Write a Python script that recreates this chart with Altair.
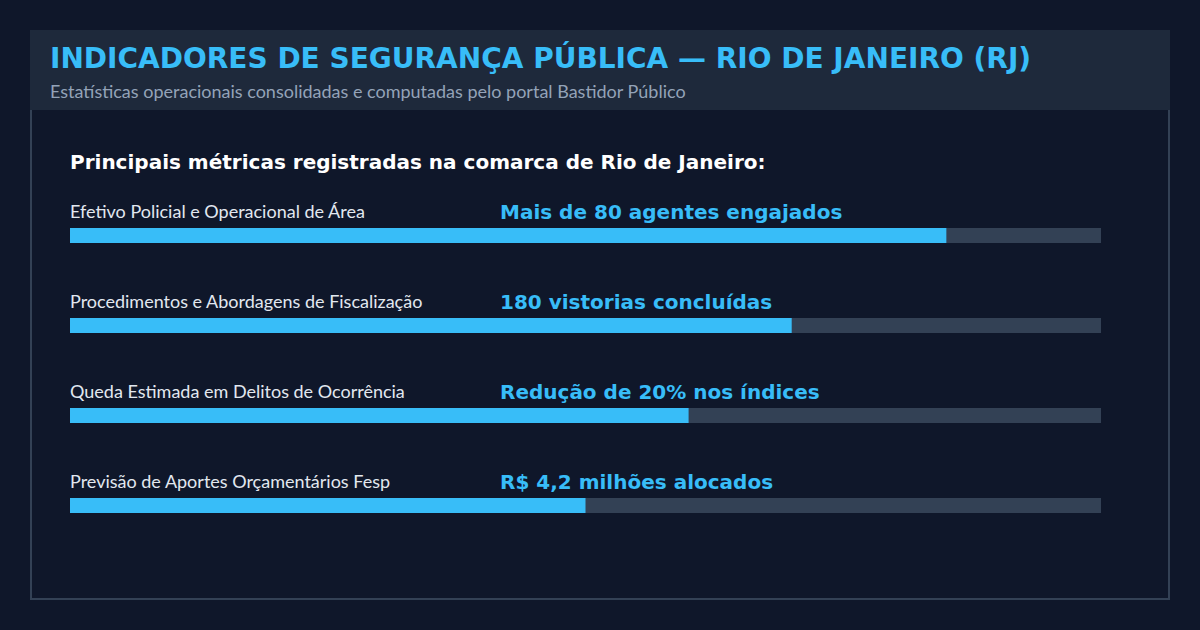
import altair as alt
import pandas as pd

# ---- data ----
categories = [
    "Efetivo Policial e Operacional de Área",
    "Procedimentos e Abordagens de Fiscalização",
    "Queda Estimada em Delitos de Ocorrência",
    "Previsão de Aportes Orçamentários Fesp",
]
values = [85, 70, 60, 50]
value_labels = [
    "Mais de 80 agentes engajados",
    "180 vistorias concluídas",
    "Redução de 20% nos índices",
    "R$ 4,2 milhões alocados",
]
title_text = "INDICADORES DE SEGURANÇA PÚBLICA — RIO DE JANEIRO (RJ)"
subtitle_text = "Estatísticas operacionais consolidadas e computadas pelo portal Bastidor Público"
heading_text = "Principais métricas registradas na comarca de Rio de Janeiro:"

df = pd.DataFrame({
    "category": categories,
    "value": values,
    "label": value_labels,
    "zero": [0] * len(categories),
    "full": [100] * len(categories),
})
one = pd.DataFrame({"t": [title_text], "s": [subtitle_text], "h": [heading_text]})

BG = "#0f172a"
PANEL = "#1e293b"
TRACK = "#334155"
ACCENT = "#38bdf8"

xs = alt.Scale(domain=[0, 100], range=[70, 1101])
ys = alt.Scale(type="point", domain=categories, range=[235.5, 505.5], padding=0)

border = alt.Chart(one).mark_rect(fill="transparent", stroke=TRACK, strokeWidth=2).encode(
    x=alt.value(31), x2=alt.value(1169), y=alt.value(31), y2=alt.value(599)
)
header = alt.Chart(one).mark_rect(fill=PANEL).encode(
    x=alt.value(30), x2=alt.value(1170), y=alt.value(30), y2=alt.value(110)
)
title = alt.Chart(one).mark_text(
    font="DejaVu Sans", fontWeight="bold", fontSize=28, color=ACCENT,
    align="left", baseline="alphabetic"
).encode(x=alt.value(50), y=alt.value(68), text="t:N")
subtitle = alt.Chart(one).mark_text(
    font="Lato", fontSize=18, color="#94a3b8", align="left", baseline="alphabetic"
).encode(x=alt.value(50), y=alt.value(98), text="s:N")
heading = alt.Chart(one).mark_text(
    font="DejaVu Sans", fontWeight="bold", fontSize=20, color="#ffffff",
    align="left", baseline="alphabetic"
).encode(x=alt.value(70), y=alt.value(169), text="h:N")

base = alt.Chart(df)
track = base.mark_rule(strokeWidth=15, strokeCap="butt", color=TRACK).encode(
    x=alt.X("zero:Q", scale=xs, axis=None), x2="full:Q",
    y=alt.Y("category:N", scale=ys, axis=None),
)
fill = base.mark_rule(strokeWidth=15, strokeCap="butt", color=ACCENT).encode(
    x=alt.X("zero:Q", scale=xs, axis=None), x2="value:Q",
    y=alt.Y("category:N", scale=ys, axis=None),
)
labels = base.mark_text(
    font="Lato", fontSize=18, color="#e2e8f0", align="left", baseline="alphabetic", dy=-17.5
).encode(x=alt.value(70), y=alt.Y("category:N", scale=ys, axis=None), text="category:N")
vals = base.mark_text(
    font="DejaVu Sans", fontWeight="bold", fontSize=20, color=ACCENT,
    align="left", baseline="alphabetic", dy=-16.5
).encode(x=alt.value(500), y=alt.Y("category:N", scale=ys, axis=None), text="label:N")

chart = alt.layer(border, header, title, subtitle, heading, track, fill, labels, vals).properties(
    width=1200, height=630, background=BG, padding=0, autosize=alt.AutoSizeParams(type="none")
).configure_view(stroke=None)

chart.save("out.html", embed_options={"renderer": "svg", "actions": False})
